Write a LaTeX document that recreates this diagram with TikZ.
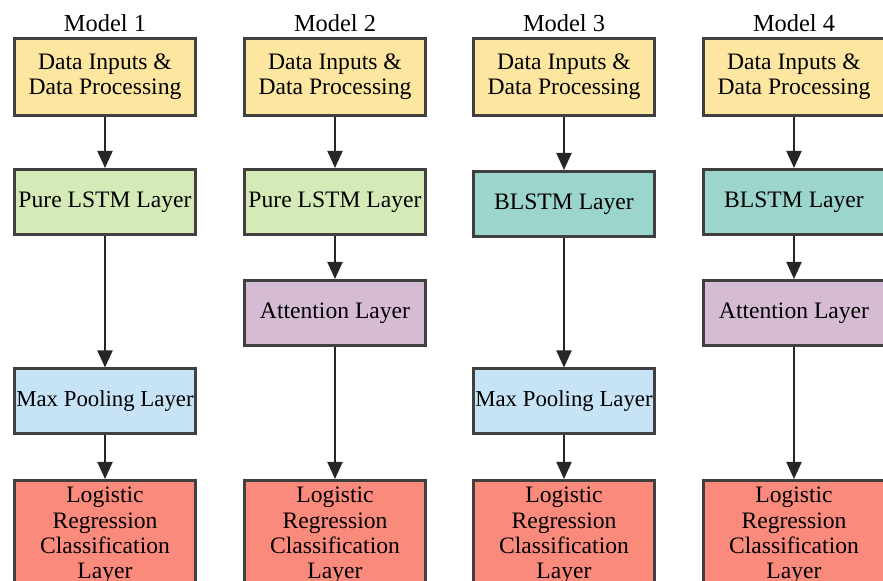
\documentclass[tikz,border=0pt]{standalone}
\usepackage{fontspec}
\setmainfont{Liberation Serif}
\usepackage{tikz}
\usetikzlibrary{positioning}
\usetikzlibrary{arrows.meta}

\definecolor{inyellow}{RGB}{252,230,160}
\definecolor{lstmgreen}{RGB}{212,235,184}
\definecolor{blstmteal}{RGB}{155,213,203}
\definecolor{attpurple}{RGB}{213,188,212}
\definecolor{poolblue}{RGB}{198,228,246}
\definecolor{logred}{RGB}{250,138,124}

\begin{document}
\begin{tikzpicture}[x=0.5pt,y=-0.5pt,
    font=\fontsize{11.8}{12.7}\selectfont,
    layer/.style={draw=black!75,line width=1.5pt,minimum width=90.5pt,
                  minimum height=32.5pt,inner xsep=0pt,inner ysep=1pt,align=center},
    pool/.style={layer,fill=poolblue,font=\fontsize{11.4}{12.7}\selectfont},
    title/.style={font=\fontsize{12.2}{14}\selectfont,anchor=base},
    arr/.style={draw=black!85,line width=1pt,-{Triangle[width=7.5pt,length=8.5pt]}}]
   \useasboundingbox (0,0) rectangle (883,581);
   \clip (0,0) rectangle (883,581);

   % Model 1
   \node (T1) [title] at (105,32) {Model 1};
   \node (D1) [layer,fill=inyellow,minimum height=38.5pt] at (105,77) {Data Inputs \&\\Data Processing};
   \node (L1) [layer,fill=lstmgreen] at (105,202) {Pure LSTM Layer};
   \node (P1) [pool] at (105,401.5) {Max Pooling Layer};
   \node (C1) [layer,fill=logred,minimum height=55pt] at (105,535.5) {Logistic\\Regression\\Classification\\Layer};
   \draw[arr] (D1) -- (L1);
   \draw[arr] (L1) -- (P1);
   \draw[arr] (P1) -- (C1);

   % Model 2
   \node (T2) [title] at (335,32) {Model 2};
   \node (D2) [layer,fill=inyellow,minimum height=38.5pt] at (335,77) {Data Inputs \&\\Data Processing};
   \node (L2) [layer,fill=lstmgreen] at (335,202) {Pure LSTM Layer};
   \node (A2) [layer,fill=attpurple] at (335,313) {Attention Layer};
   \node (C2) [layer,fill=logred,minimum height=55pt] at (335,535.5) {Logistic\\Regression\\Classification\\Layer};
   \draw[arr] (D2) -- (L2);
   \draw[arr] (L2) -- (A2);
   \draw[arr] (A2) -- (C2);

   % Model 3
   \node (T3) [title] at (564,32) {Model 3};
   \node (D3) [layer,fill=inyellow,minimum height=38.5pt] at (564,77) {Data Inputs \&\\Data Processing};
   \node (B3) [layer,fill=blstmteal] at (564,204) {BLSTM Layer};
   \node (P3) [pool] at (564,401.5) {Max Pooling Layer};
   \node (C3) [layer,fill=logred,minimum height=55pt] at (564,535.5) {Logistic\\Regression\\Classification\\Layer};
   \draw[arr] (D3) -- (B3);
   \draw[arr] (B3) -- (P3);
   \draw[arr] (P3) -- (C3);

   % Model 4
   \node (T4) [title] at (794,32) {Model 4};
   \node (D4) [layer,fill=inyellow,minimum height=38.5pt] at (794,77) {Data Inputs \&\\Data Processing};
   \node (B4) [layer,fill=blstmteal] at (794,202) {BLSTM Layer};
   \node (A4) [layer,fill=attpurple] at (794,313) {Attention Layer};
   \node (C4) [layer,fill=logred,minimum height=55pt] at (794,535.5) {Logistic\\Regression\\Classification\\Layer};
   \draw[arr] (D4) -- (B4);
   \draw[arr] (B4) -- (A4);
   \draw[arr] (A4) -- (C4);
\end{tikzpicture}
\end{document}
